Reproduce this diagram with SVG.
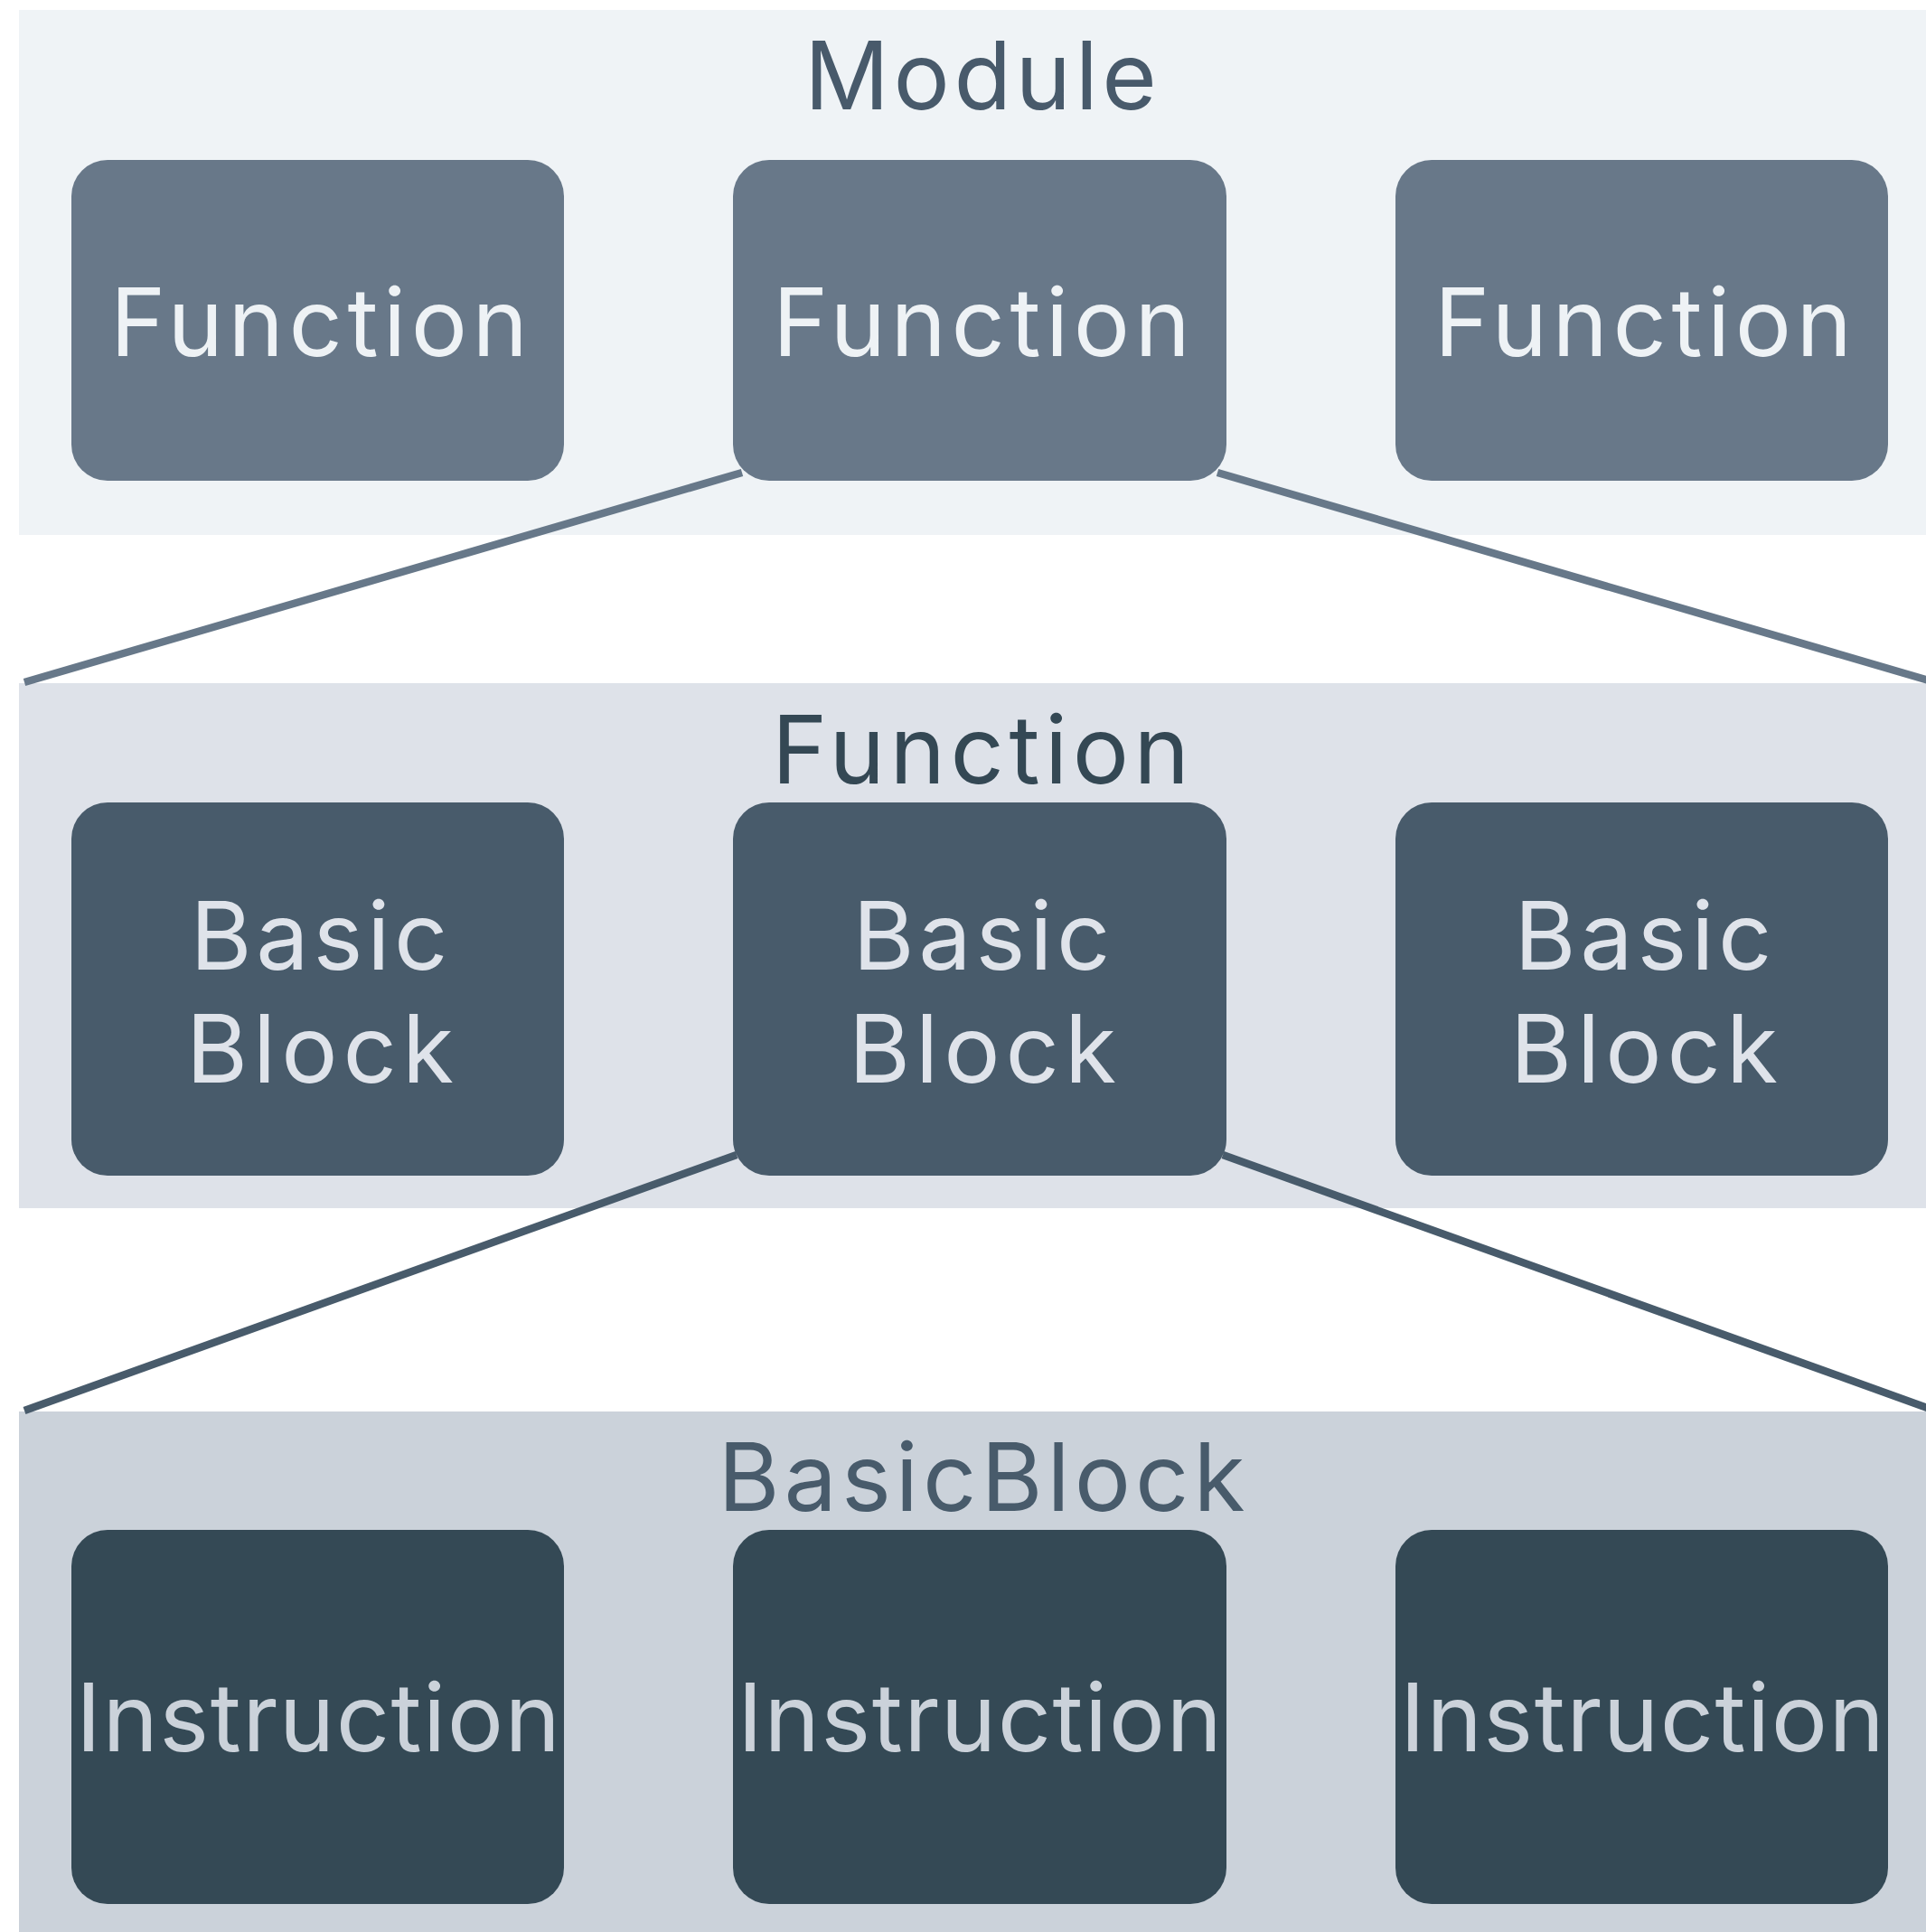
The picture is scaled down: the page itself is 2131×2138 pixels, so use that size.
<svg xmlns="http://www.w3.org/2000/svg" width="2131" height="2138" viewBox="0 0 2131 2138">
  <style>
    text { font-family: Inter, "Noto Sans", "Liberation Sans", sans-serif; font-size: 104px; text-anchor: middle; }
    .conn { fill: none; stroke-width: 8.5; stroke-linecap: butt; }
    .conn-fn { stroke: #677889; }
    .conn-bb { stroke: #485b6b; }
    .fn-box { fill: #687889; }
    .fn-label { fill: #eef2f5; }
    .bb-box { fill: #485b6b; }
    .bb-label { fill: #dfe3ea; }
    .in-box { fill: #344955; }
    .in-label { fill: #cbd2da; }
  </style>

  <rect width="2131" height="2138" fill="#ffffff"/>

  <!-- Containers -->
  <g id="module-panel">
    <rect x="21" y="11" width="2126" height="581" fill="#eff3f6"/>
    <text x="1085" y="121" fill="#485a6b" textLength="390" lengthAdjust="spacing">Module</text>
  </g>
  <g id="function-panel">
    <rect x="21" y="756" width="2126" height="581" fill="#dee2e9"/>
    <text x="1085" y="867" fill="#344854" textLength="462" lengthAdjust="spacing">Function</text>
  </g>
  <g id="basicblock-panel">
    <rect x="21" y="1562" width="2126" height="600" fill="#cbd2da"/>
    <text x="1086" y="1672" fill="#485b6b" textLength="583" lengthAdjust="spacing">BasicBlock</text>
  </g>

  <!-- Connectors -->
  <g id="connectors">
    <line class="conn conn-fn" x1="821" y1="523" x2="27" y2="755"/>
    <line class="conn conn-fn" x1="1347" y1="523" x2="2141" y2="755"/>
    <line class="conn conn-bb" x1="815" y1="1278" x2="27" y2="1561"/>
    <line class="conn conn-bb" x1="1353" y1="1278" x2="2141" y2="1561"/>
  </g>

  <!-- Module contents -->
  <g id="function-1">
    <rect class="fn-box" x="79" y="177" width="545" height="355" rx="40"/>
    <text class="fn-label" x="353" y="394" textLength="462" lengthAdjust="spacing">Function</text>
  </g>
  <g id="function-2">
    <rect class="fn-box" x="811" y="177" width="546" height="355" rx="40"/>
    <text class="fn-label" x="1086" y="394" textLength="462" lengthAdjust="spacing">Function</text>
  </g>
  <g id="function-3">
    <rect class="fn-box" x="1544" y="177" width="545" height="355" rx="40"/>
    <text class="fn-label" x="1818" y="394" textLength="462" lengthAdjust="spacing">Function</text>
  </g>

  <!-- Function contents -->
  <g id="basic-block-1">
    <rect class="bb-box" x="79" y="888" width="545" height="413" rx="40"/>
    <text class="bb-label" x="353" y="1073" textLength="285" lengthAdjust="spacing">Basic</text>
    <text class="bb-label" x="354" y="1198" textLength="296" lengthAdjust="spacing">Block</text>
  </g>
  <g id="basic-block-2">
    <rect class="bb-box" x="811" y="888" width="546" height="413" rx="40"/>
    <text class="bb-label" x="1086" y="1073" textLength="285" lengthAdjust="spacing">Basic</text>
    <text class="bb-label" x="1087" y="1198" textLength="296" lengthAdjust="spacing">Block</text>
  </g>
  <g id="basic-block-3">
    <rect class="bb-box" x="1544" y="888" width="545" height="413" rx="40"/>
    <text class="bb-label" x="1818" y="1073" textLength="285" lengthAdjust="spacing">Basic</text>
    <text class="bb-label" x="1819" y="1198" textLength="296" lengthAdjust="spacing">Block</text>
  </g>

  <!-- BasicBlock contents -->
  <g id="instruction-1">
    <rect class="in-box" x="79" y="1693" width="545" height="414" rx="40"/>
    <text class="in-label" x="352" y="1938" textLength="536" lengthAdjust="spacing">Instruction</text>
  </g>
  <g id="instruction-2">
    <rect class="in-box" x="811" y="1693" width="546" height="414" rx="40"/>
    <text class="in-label" x="1084" y="1938" textLength="536" lengthAdjust="spacing">Instruction</text>
  </g>
  <g id="instruction-3">
    <rect class="in-box" x="1544" y="1693" width="545" height="414" rx="40"/>
    <text class="in-label" x="1817" y="1938" textLength="536" lengthAdjust="spacing">Instruction</text>
  </g>
</svg>
